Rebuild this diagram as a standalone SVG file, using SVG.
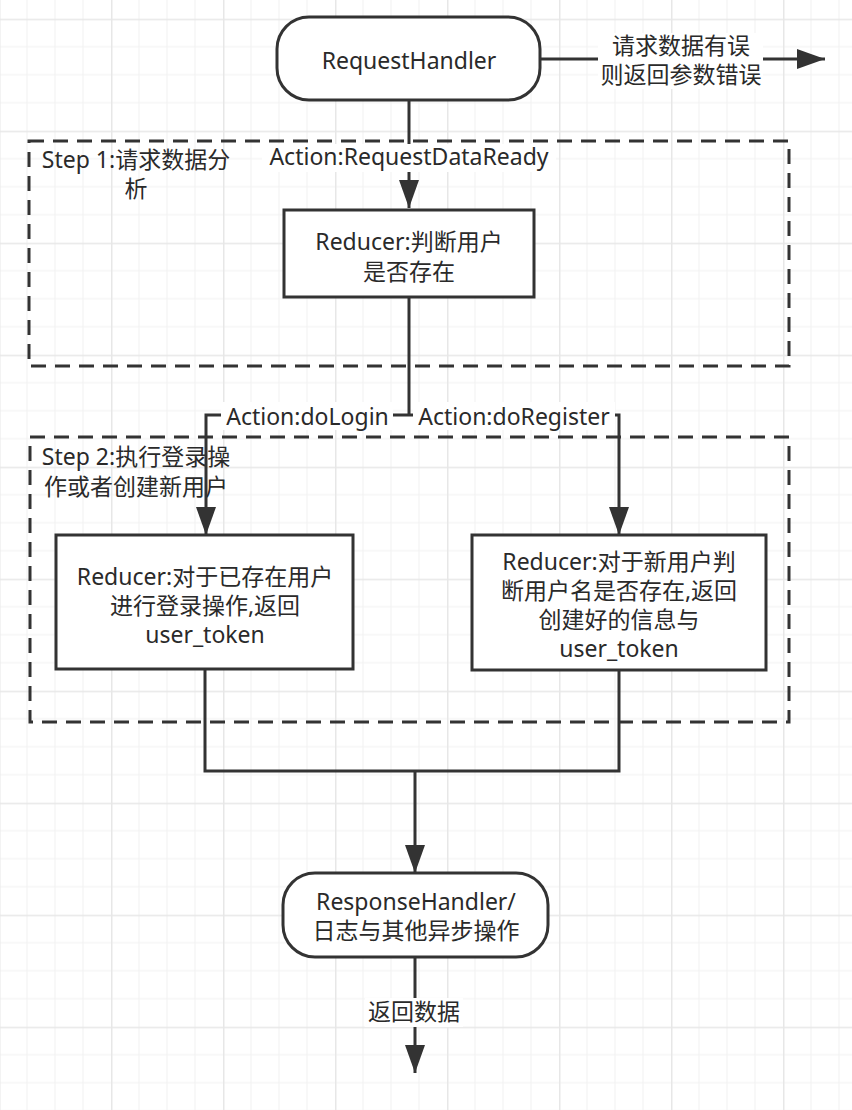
<svg xmlns="http://www.w3.org/2000/svg" width="852" height="1110" viewBox="0 0 852 1110">
  <defs>
    <pattern id="grid" patternUnits="userSpaceOnUse" x="-1" y="18.7" width="112" height="112">
      <path d="M28 0V112M56 0V112M84 0V112M0 28H112M0 56H112M0 84H112" stroke="#f1f1f1" stroke-width="1" fill="none"/>
      <path d="M0.75 0V112M0 0.75H112" stroke="#e7e7e7" stroke-width="1.5" fill="none"/>
    </pattern>
    <marker id="arrow" markerUnits="userSpaceOnUse" markerWidth="28" markerHeight="20" refX="28" refY="10" orient="auto">
      <path d="M0,0 L28,10 L0,20 Z" fill="#333"/>
    </marker>
  </defs>
  <style>
    .txt { font-family: 'Noto Sans', 'Noto Sans CJK SC', sans-serif; font-size: 23px; fill: #2a2a2a; text-anchor: middle; }
    .box { fill: #ffffff; stroke: #333; stroke-width: 3; }
    .group { fill: none; stroke: #333; stroke-width: 3; stroke-dasharray: 15 9; }
    .edge { fill: none; stroke: #333; stroke-width: 3; }
    .arr { marker-end: url(#arrow); }
    .lblbg { fill: #ffffff; }
  </style>

  <rect x="0" y="0" width="852" height="1110" fill="#ffffff"/>
  <rect x="0" y="0" width="852" height="1110" fill="url(#grid)"/>

  <g id="step1">
    <rect class="group" x="29" y="141" width="760" height="225"/>
    <text class="txt" x="136" y="168">Step 1:请求数据分</text>
    <text class="txt" x="136" y="197">析</text>
  </g>

  <g id="step2">
    <rect class="group" x="30" y="437" width="759" height="285"/>
    <text class="txt" x="136" y="465">Step 2:执行登录操</text>
    <text class="txt" x="136" y="495">作或者创建新用户</text>
  </g>

  <g id="connectors">
    <path class="edge arr" d="M540 59 H825"/>
    <path class="edge arr" d="M409 100 V208"/>
    <path class="edge" d="M409 297 V415"/>
    <path class="edge arr" d="M409 415 H206 V535"/>
    <path class="edge arr" d="M409 415 H619 V535"/>
    <path class="edge" d="M205 669 V771 H619 V670"/>
    <path class="edge arr" d="M415 771 V873"/>
    <path class="edge arr" d="M415 957 V1073"/>

    <rect class="lblbg" x="598" y="33" width="165" height="56"/>
    <text class="txt" x="681" y="54">请求数据有误</text>
    <text class="txt" x="681" y="83">则返回参数错误</text>

    <rect class="lblbg" x="262" y="144" width="294" height="28"/>
    <text class="txt" x="409" y="165">Action:RequestDataReady</text>

    <rect class="lblbg" x="221" y="402" width="172" height="28"/>
    <text class="txt" x="307.5" y="425">Action:doLogin</text>

    <rect class="lblbg" x="413" y="402" width="202" height="28"/>
    <text class="txt" x="514" y="425">Action:doRegister</text>

    <rect class="lblbg" x="365" y="998" width="98" height="29"/>
    <text class="txt" x="414" y="1020">返回数据</text>
  </g>

  <g id="requestHandler">
    <rect class="box" x="277" y="17" width="263" height="83" rx="32" ry="32"/>
    <text class="txt" x="409" y="69">RequestHandler</text>
  </g>

  <g id="reducerCheck">
    <rect class="box" x="284" y="210" width="250" height="87"/>
    <text class="txt" x="409" y="250">Reducer:判断用户</text>
    <text class="txt" x="409" y="280">是否存在</text>
  </g>

  <g id="reducerLogin">
    <rect class="box" x="56" y="535" width="297" height="134"/>
    <text class="txt" x="205" y="585">Reducer:对于已存在用户</text>
    <text class="txt" x="205" y="614">进行登录操作,返回</text>
    <text class="txt" x="205" y="643">user_token</text>
  </g>

  <g id="reducerRegister">
    <rect class="box" x="472" y="535" width="294" height="135"/>
    <text class="txt" x="619" y="570">Reducer:对于新用户判</text>
    <text class="txt" x="619" y="599">断用户名是否存在,返回</text>
    <text class="txt" x="619" y="628">创建好的信息与</text>
    <text class="txt" x="619" y="657">user_token</text>
  </g>

  <g id="responseHandler">
    <rect class="box" x="283" y="873" width="265" height="84" rx="32" ry="32"/>
    <text class="txt" x="416" y="910">ResponseHandler/</text>
    <text class="txt" x="416" y="939">日志与其他异步操作</text>
  </g>
</svg>
